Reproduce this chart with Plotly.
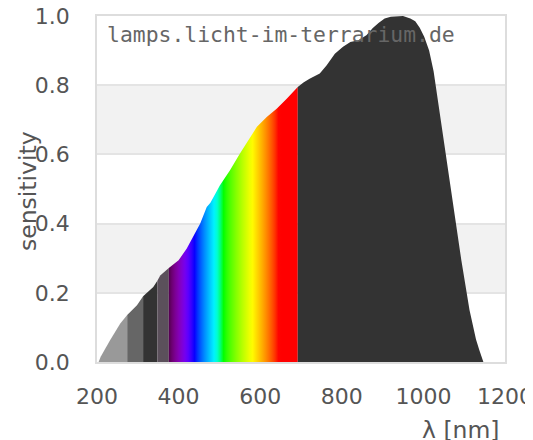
import plotly.graph_objects as go

# wavelength [nm] and relative sensitivity
wavelength = [204, 209, 232, 257, 274, 298, 313, 338, 348, 355, 376, 400, 420, 436,
              453, 469, 478, 501, 526, 550, 571, 592, 616, 641, 665, 692,
              706, 721, 746, 763, 783, 803, 821, 841, 861, 876, 890, 905, 920,
              950, 968, 980, 991, 1002, 1014, 1025, 1035, 1043, 1055, 1075,
              1093, 1113, 1129, 1137, 1147]
sensitivity = [0.0, 0.015, 0.063, 0.111, 0.136, 0.164, 0.19, 0.217, 0.235, 0.25, 0.272,
               0.294, 0.328, 0.361, 0.40, 0.448, 0.46, 0.51, 0.554, 0.602, 0.641,
               0.68, 0.708, 0.733, 0.761, 0.795,
               0.808, 0.819, 0.834, 0.858, 0.891, 0.911, 0.925, 0.93, 0.945, 0.965,
               0.98, 0.993, 0.998, 1.0, 0.993, 0.985, 0.966, 0.94, 0.90, 0.84,
               0.76, 0.70, 0.60, 0.44, 0.294, 0.15, 0.065, 0.035, 0.0]

# spectral bands: (start, end, colour); None = visible spectrum gradient
bands = [(200, 274, "#999999"), (274, 313, "#666666"), (313, 348, "#333333"),
         (348, 376, "#5b505b"), (376, 692, None), (692, 1200, "#333333")]

x_ticks = [200, 400, 600, 800, 1000, 1200]
y_ticks = [0.0, 0.2, 0.4, 0.6, 0.8, 1.0]
watermark = "lamps.licht-im-terrarium.de"


def wl_rgb(w):
    if w < 440:
        r, g, b = -(w - 440) / 60.0, 0.0, 1.0
    elif w < 490:
        r, g, b = 0.0, (w - 440) / 50.0, 1.0
    elif w < 510:
        r, g, b = 0.0, 1.0, -(w - 510) / 20.0
    elif w < 580:
        r, g, b = (w - 510) / 70.0, 1.0, 0.0
    elif w < 645:
        r, g, b = 1.0, -(w - 645) / 65.0, 0.0
    else:
        r, g, b = 1.0, 0.0, 0.0
    if w < 420:
        f = max(0.3 + 0.7 * (w - 380) / 40.0, 0.2)
    else:
        f = 1.0
    c = [int(round(255 * (v * f) ** 0.8)) if v > 0 else 0 for v in (r, g, b)]
    return "rgb(%d,%d,%d)" % tuple(c)


fig = go.Figure()
for lo, hi, col in bands:
    xs = [w for w in wavelength if lo <= w <= hi]
    ys = [s for w, s in zip(wavelength, sensitivity) if lo <= w <= hi]
    if not xs:
        continue
    tr = dict(x=xs, y=ys, mode="lines", line=dict(width=0), fill="tozeroy",
              hoverinfo="skip", showlegend=False)
    if col is None:
        n = 40
        stops = []
        for i in range(n + 1):
            w = lo + (hi - lo) * i / n
            stops.append([i / n, wl_rgb(w)])
        tr["fillgradient"] = dict(type="horizontal", colorscale=stops, start=lo, stop=hi)
    else:
        tr["fillcolor"] = col
    fig.add_trace(go.Scatter(**tr))

# alternating background bands
for y0 in (0.2, 0.6):
    fig.add_shape(type="rect", xref="paper", yref="y", x0=0, x1=1, y0=y0, y1=y0 + 0.2,
                  fillcolor="#f2f2f2", line=dict(width=0), layer="below")

tickfont = dict(family="DejaVu Sans", size=22, color="#555555")
fig.update_xaxes(range=[200, 1200], tickvals=x_ticks, ticktext=[str(t) for t in x_ticks],
                 showgrid=False, zeroline=False, showline=True, mirror=True,
                 linecolor="#dddddd", linewidth=1.5, ticks="", tickfont=tickfont,
                 ticklabelstandoff=14, automargin=False, ticklabeloverflow="allow")
fig.update_yaxes(range=[0, 1], tickvals=y_ticks, ticktext=["%.1f" % t for t in y_ticks],
                 showgrid=True, gridcolor="#e4e4e4", gridwidth=1.5, zeroline=False,
                 showline=True, mirror=True, linecolor="#dddddd", linewidth=1.5,
                 ticks="", tickfont=tickfont, ticklabelstandoff=21, automargin=False,
                 ticklabeloverflow="allow")

fig.add_annotation(text="sensitivity", xref="paper", yref="paper", x=0, y=0.5,
                   xanchor="center", yanchor="middle", xshift=-69, yshift=-2,
                   textangle=-90, showarrow=False,
                   font=dict(family="DejaVu Sans", size=23.5, color="#555555"))
fig.add_annotation(text="λ [nm]", xref="paper", yref="paper", x=1, y=0,
                   xanchor="right", yanchor="top", xshift=-3, yshift=-52,
                   showarrow=False,
                   font=dict(family="DejaVu Sans", size=23.5, color="#555555"))
fig.add_annotation(text=watermark, xref="paper", yref="paper", x=0, y=1,
                   xanchor="left", yanchor="top", xshift=8, yshift=-4,
                   showarrow=False,
                   font=dict(family="DejaVu Sans Mono", size=21.4, color="#666666"))

# the page body adds an 8 px offset, so the figure is 8 px smaller than the window
fig.update_layout(width=525, height=432, margin=dict(l=89, r=28, t=8, b=78),
                  paper_bgcolor="white", plot_bgcolor="white")
fig.write_html("out.html")
